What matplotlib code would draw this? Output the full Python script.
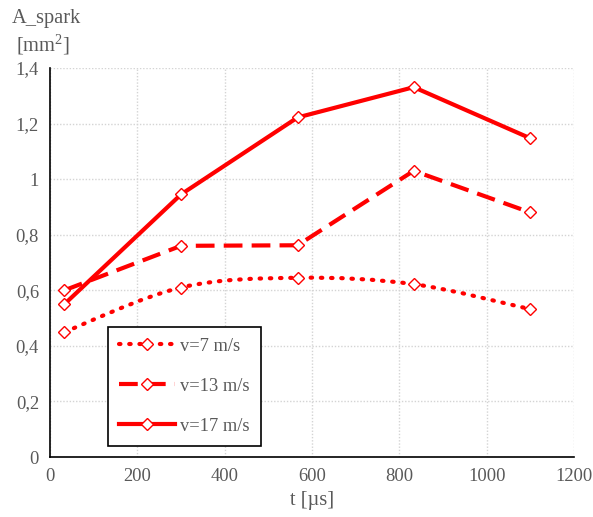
import matplotlib
matplotlib.use("Agg")
import matplotlib.pyplot as plt
from matplotlib.path import Path
from matplotlib.patches import PathPatch
from matplotlib.lines import Line2D
from matplotlib.ticker import FuncFormatter

plt.rcParams['font.family'] = ['Liberation Serif', 'DejaVu Serif']
plt.rcParams['mathtext.default'] = 'regular'

t_us = [33, 300, 567, 833, 1100]
v7 = [0.45, 0.61, 0.645, 0.622, 0.532]
v13 = [0.60, 0.76, 0.762, 1.03, 0.88]
v17 = [0.55, 0.945, 1.222, 1.331, 1.147]
labels = ['v=7 m/s', 'v=13 m/s', 'v=17 m/s']
x_ticks = [0, 200, 400, 600, 800, 1000, 1200]
y_ticks = [0, 0.2, 0.4, 0.6, 0.8, 1.0, 1.2, 1.4]

RED = '#ff0000'
GRAY = '#595959'
TICK_FS = 13.3
TITLE_FS = 14.7

fig = plt.figure(figsize=(5.93, 5.17), dpi=100)
ax = fig.add_axes([50/593, 60/517, 524/593, 389/517])
ax.set_xlim(0, 1200)
ax.set_ylim(0, 1.4)
ax.set_xticks(x_ticks)
ax.set_yticks(y_ticks)
ax.yaxis.set_major_formatter(FuncFormatter(lambda v, p: ('%g' % round(v, 1)).replace('.', ',')))
ax.grid(True, color='#d4d4d4', linestyle=(0, (1.0, 1.3)), linewidth=1.0)
ax.set_axisbelow(True)
for s in ['top', 'right']:
    ax.spines[s].set_visible(False)
for s in ['left', 'bottom']:
    ax.spines[s].set_linewidth(1.2)
    ax.spines[s].set_color('black')
ax.tick_params(length=0, labelsize=TICK_FS, labelcolor=GRAY, pad=8)

# smoothed curve for v=7 (Bezier smoothing as the spreadsheet draws it)
def smooth_path(xs, ys):
    verts = [(xs[0], ys[0])]
    codes = [Path.MOVETO]
    n = len(xs)
    for i in range(n - 1):
        x0, y0 = (xs[i - 1], ys[i - 1]) if i > 0 else (xs[i], ys[i])
        x1, y1 = xs[i], ys[i]
        x2, y2 = xs[i + 1], ys[i + 1]
        x3, y3 = (xs[i + 2], ys[i + 2]) if i + 2 < n else (x2, y2)
        c1 = (x1 + (x2 - x0) / 6, y1 + (y2 - y0) / 6)
        c2 = (x2 - (x3 - x1) / 6, y2 - (y3 - y1) / 6)
        verts += [c1, c2, (x2, y2)]
        codes += [Path.CURVE4] * 3
    return Path(verts, codes)

LW = 3.0
dot_style = (0, (0.35, 2.1))
dash_style = (0, (4.5, 2.2))
mk = dict(marker='D', markersize=6.5, markerfacecolor='white', markeredgecolor=RED,
          markeredgewidth=1.0)

patch = PathPatch(smooth_path(t_us, v7), facecolor='none', edgecolor=RED,
                  linewidth=LW, linestyle=dot_style, capstyle='round')
ax.add_patch(patch)
ax.plot(t_us, v7, linestyle='none', zorder=3, **mk)
ax.plot(t_us, v13, color=RED, linewidth=LW, linestyle=dash_style, zorder=3, **mk)
ax.plot(t_us, v17, color=RED, linewidth=LW, zorder=3, **mk)

handles = [
    Line2D([], [], color=RED, linewidth=LW, linestyle=dot_style, dash_capstyle='round', **mk),
    Line2D([], [], color=RED, linewidth=LW, linestyle=dash_style, **mk),
    Line2D([], [], color=RED, linewidth=LW, **mk),
]
leg = ax.legend(handles, labels, loc='lower left', bbox_to_anchor=(58/524, 11/389),
                fontsize=TICK_FS, labelcolor=GRAY, frameon=True, fancybox=False,
                edgecolor='black', framealpha=1, borderpad=0.6, labelspacing=1.25,
                handlelength=3.0, handletextpad=0.3, borderaxespad=0)
leg.get_frame().set_linewidth(1.2)
leg.set_zorder(5)

ax.set_xlabel('t [µs]', fontsize=TITLE_FS, color=GRAY, labelpad=4)
fig.text(12/593, 1 - 19/517, 'A_spark', fontsize=TITLE_FS, color=GRAY, va='center', ha='left')
fig.text(16/593, 1 - 45/517, '[mm$^{2}$]', fontsize=TITLE_FS, color=GRAY, va='center', ha='left')

fig.savefig('out.png', dpi=100)
